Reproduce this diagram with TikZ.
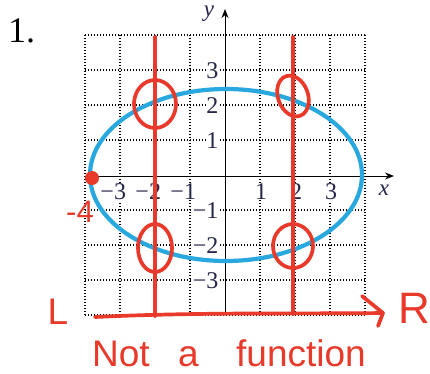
\documentclass[tikz,border=0pt]{standalone}
\usepackage{fontspec}
\setmainfont{Liberation Serif}
\newfontfamily\handfont{Liberation Sans}
\usetikzlibrary{arrows.meta}
\definecolor{ink}{HTML}{25264A}
\definecolor{ellblue}{HTML}{29A8E0}
\definecolor{pen}{HTML}{E8392A}
\begin{document}
\begin{tikzpicture}[x=1pt,y=-1pt,
  gridline/.style={black, line width=1.3pt, dash pattern=on 1.4pt off 1.6pt},
  axisline/.style={black, line width=1pt},
  tick/.style={font=\fontsize{24}{24}\selectfont, text=ink, fill=white, inner sep=0.5pt},
  axlabel/.style={font=\itshape\fontsize{23}{23}\selectfont, text=ink, inner sep=0pt},
  penline/.style={pen, line width=3.7pt, line cap=round, line join=round},
  handtext/.style={text=pen, font=\handfont\fontsize{37}{40}\selectfont, inner sep=0pt}]
\useasboundingbox (0,0) rectangle (430,373);

% number
\node[font=\fontsize{36}{36}\selectfont, anchor=base west, inner sep=0pt] (num) at (8,42) {1.};

% grid
\foreach \gx in {85,120,155,190,260,295,330,365}
  \draw[gridline] (\gx,35) -- (\gx,315);
\foreach \gy in {35,70,105,140,210,245,280,315}
  \draw[gridline] (85,\gy) -- (365,\gy);

% axes
\coordinate (xs) at (85,176);
\coordinate (xe) at (394,176);
\coordinate (ys) at (225,315);
\coordinate (ye) at (225,9);
\draw[axisline,-{Stealth[length=9pt,width=7pt]}] (xs) -- (xe);
\draw[axisline,-{Stealth[length=9pt,width=7pt]}] (ys) -- (ye);
\node[axlabel] (xl) at (384,190) {x};
\node[axlabel] (yl) at (209,14) {y};

% tick labels
\node[tick] (tx1) at (120,192) {\llap{−}3};
\node[tick] (tx2) at (155,192) {\llap{−}2};
\node[tick] (tx3) at (190,192) {\llap{−}1};
\node[tick] (tx4) at (261,192) {1};
\node[tick] (tx5) at (296,192) {2};
\node[tick] (tx6) at (331,192) {3};
\node[tick, anchor=east] (ty1) at (219,71) {3};
\node[tick, anchor=east] (ty2) at (219,106) {2};
\node[tick, anchor=east] (ty3) at (219,141) {1};
\node[tick, anchor=east] (ty4) at (219,211) {−1};
\node[tick, anchor=east] (ty5) at (219,246) {−2};
\node[tick, anchor=east] (ty6) at (219,281) {−3};

% ellipse
\draw[ellblue, line width=4.2pt] (226,175) ellipse [x radius=136, y radius=86];

% red annotations
\coordinate (v1t) at (155,37);
\coordinate (v1b) at (155,316);
\coordinate (v2t) at (293,37);
\coordinate (v2b) at (293,314);
\draw[penline] (v1t) -- (v1b);
\draw[penline] (v2t) -- (v2b);

\coordinate (hs) at (95,317);
\coordinate (tip) at (383,313);
\coordinate (b1) at (362,296);
\coordinate (b2) at (378,326);
\draw[penline] (hs) .. controls (200,312) and (300,314) .. (tip);
\draw[penline] (b1) -- (tip) -- (b2);

\draw[penline] (155,104) ellipse [x radius=21, y radius=24];
\draw[penline] (293,96) [rotate around={20:(293,96)}] ellipse [x radius=15, y radius=21];
\draw[penline] (155,248) ellipse [x radius=17, y radius=24];
\draw[penline] (293,246) ellipse [x radius=20, y radius=22];

\fill[pen] (92,178) circle (7);

\node[handtext, font=\handfont\fontsize{31}{31}\selectfont] (m4) at (80,212) {-4};
\node[handtext] (L) at (58,312) {L};
\node[handtext, font=\handfont\fontsize{44}{44}\selectfont] (R) at (414,308) {R};
\node[handtext, anchor=base west] (t1) at (92,366) {Not};
\node[handtext, anchor=base west] (t2) at (178,366) {a};
\node[handtext, anchor=base west] (t3) at (236,366) {function};
\end{tikzpicture}
\end{document}
